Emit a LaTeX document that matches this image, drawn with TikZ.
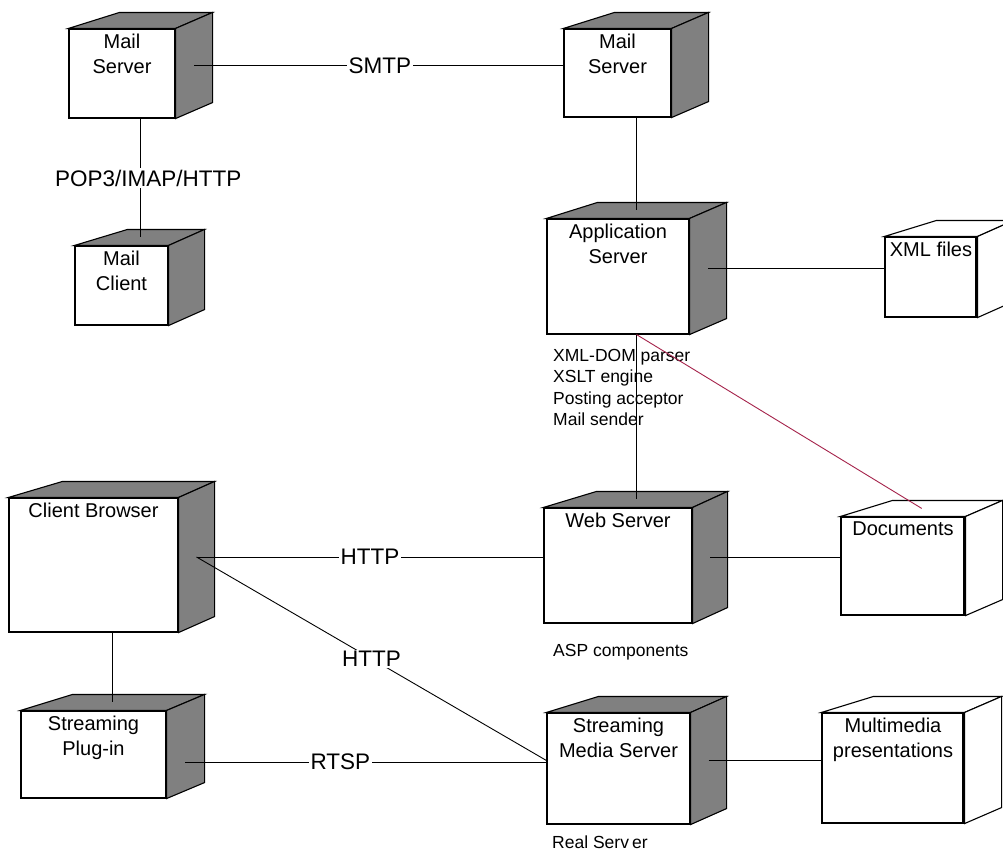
\documentclass[tikz,border=0pt]{standalone}
\usepackage{fontspec}
\setmainfont{Liberation Sans}
\usetikzlibrary{fit,calc}
\definecolor{facegray}{RGB}{128,128,128}
\definecolor{linkred}{RGB}{165,35,75}
\tikzset{
  frontface/.style={draw=black, line width=1.1pt, fill=white, inner sep=0pt},
  faceline/.style={draw=black, line width=1.1pt, line join=miter},
  nodelabel/.style={inner sep=0pt, align=center, font=\fontsize{20}{25}\selectfont},
  anno/.style={inner sep=0pt, align=left, font=\fontsize{17.5}{21.5}\selectfont},
  conn/.style={draw=black, line width=0.9pt},
  redconn/.style={draw=linkred, line width=0.9pt},
  lab/.style={fill=white, inner sep=1.5pt, font=\fontsize{22.5}{26}\selectfont}
}
% #1 name, #2 x1, #3 y1, #4 x2, #5 y2, #6 left depth, #7 right depth, #8 face colour, #9 text
\newcommand\ddnode[9]{%
  \coordinate (#1nw) at (#2,#3);
  \coordinate (#1se) at (#4,#5);
  \node[frontface, fit=(#1nw)(#1se)] (#1) {};
  \path[faceline, fill=#8] (#1.north west) -- ++(#6,-16) -- ([shift={(#7,-16)}]#1.north east) -- (#1.north east) -- cycle;
  \path[faceline, fill=#8] (#1.north east) -- ([shift={(#7,-16)}]#1.north east) -- ([shift={(#7,-16)}]#1.south east) -- (#1.south east) -- cycle;
  \coordinate (#1side) at ($(#1.east)+({#7/2},-8)$);
  \coordinate (#1top) at ($(#1.north)+({(#6+#7)/4-3.5},-8)$);
  \node[nodelabel, anchor=north] (#1txt) at ([yshift=-5pt]#1.north) {#9};
}
\begin{document}
\begin{tikzpicture}[x=1pt,y=-1pt]
\useasboundingbox[fill=white] (0,0) rectangle (1003,852);
\clip (0,0) rectangle (1003,852);

% annotations
\node[anno, anchor=north west] (asnote) at (553,349) {XML-DOM parser\\XSLT engine\\Posting acceptor\\Mail sender};
\node[anno, anchor=base west] (wsnote) at (553,656) {ASP components};
\node[anno, anchor=base west] (smsnote) at (552,848) {Real Serv\kern3pt er};

% nodes
\ddnode{msa}{69}{29}{175}{118}{51}{37}{facegray}{Mail\\Server}
\ddnode{msb}{564}{29}{671}{117}{51}{37}{facegray}{Mail\\Server}
\ddnode{mc}{75}{246}{168}{325}{53}{36}{facegray}{Mail\\Client}
\ddnode{as}{547}{219}{689}{334}{51}{37}{facegray}{Application\\Server}
\ddnode{xml}{885}{237}{977}{317}{52}{36}{white}{XML files}
\ddnode{cb}{9}{498}{178}{632}{54}{36}{facegray}{Client Browser}
\ddnode{ws}{544}{508}{692}{623}{53}{35}{facegray}{Web Server}
\ddnode{docs}{841}{517}{965}{615}{52}{37}{white}{Documents}
\ddnode{sp}{21}{711}{166}{798}{52}{38}{facegray}{Streaming\\Plug-in}
\ddnode{sms}{547}{713}{690}{824}{52}{36}{facegray}{Streaming\\Media Server}
\ddnode{mm}{822}{713}{964}{823}{52}{37}{white}{Multimedia\\presentations}

% doubled right edges of the artifact boxes
\foreach \n in {xml,docs,mm}{
  \draw[line width=1.1pt] ([xshift=-2pt]\n.north east) -- ([xshift=-2pt]\n.south east);
}

\coordinate (spline) at (185,762);

% connectors
\draw[conn] (msaside) -- (msaside -| msb.west) node[lab, pos=0.503] {SMTP};
\draw[conn] (msa.south -| mctop) -- (mctop) node[lab, pos=0.5, xshift=8pt] {POP3/IMAP/HTTP};
\draw[conn] (msb.south -| astop) -- (astop);
\draw[conn] (asside) -- (asside -| xml.west);
\draw[conn] (as.south -| wstop) -- (wstop);
\draw[redconn] (as.south -| wstop) -- (docstop);
\draw[conn] (cbside) -- (cbside -| ws.west) node[lab, pos=0.5] {HTTP};
\draw[conn] (cbside) -- (smsside -| sms.west) node[lab, pos=0.5] {HTTP};
\draw[conn] (cb.south -| sptop) -- (sptop);
\draw[conn] (spline) -- (spline -| sms.west) node[lab, pos=0.43] {RTSP};
\draw[conn] (wsside) -- (wsside -| docs.west);
\draw[conn] (smsside) -- (smsside -| mm.west);
\end{tikzpicture}
\end{document}
